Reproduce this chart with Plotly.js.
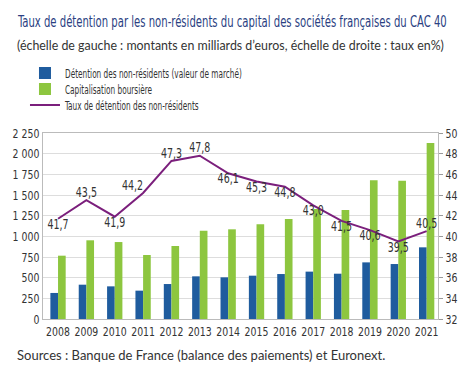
<!DOCTYPE html>
<html><head><meta charset="utf-8">
<script src="https://cdn.plot.ly/plotly-3.0.1.min.js"></script>
<style>html,body{margin:0;padding:0;background:#fff}#c{width:474px;height:382px}</style>
</head><body><div id="c"></div>
<script>
const years = [2008,2009,2010,2011,2012,2013,2014,2015,2016,2017,2018,2019,2020,2021];
const detention = [315,415,395,343,423,516,504,524,544,573,548,685,665,867];
const capitalisation = [766,952,931,774,883,1069,1085,1145,1210,1331,1319,1677,1673,2129];
const taux = [41.7,43.5,41.9,44.2,47.3,47.8,46.1,45.3,44.8,43.0,41.5,40.6,39.5,40.5];
const labelPos = ['bottom center','top center','bottom center','top left','top center','top center','bottom center','bottom center','bottom center','bottom center','bottom center','bottom center','bottom center','top center'];
const leftTicks = [0,250,500,750,1000,1250,1500,1750,2000,2250];
const rightTicks = [32,34,36,38,40,42,44,46,48,50];

const cond = '"Liberation Sans Narrow","DejaVu Sans Condensed","Liberation Sans",Arial,sans-serif';
const reg = 'Lato,"Open Sans",sans-serif';

const traces = [
  {type:'bar', x:years, y:detention, name:'Détention des non-résidents (valeur de marché)', marker:{color:'#1f5c9e'}},
  {type:'bar', x:years, y:capitalisation, name:'Capitalisation boursière', marker:{color:'#8dc63f'}},
  {type:'scatter', mode:'lines+text', x:years, y:taux, yaxis:'y2', name:'Taux de détention des non-résidents',
   line:{color:'#7b1f7c', width:2}, text:taux.map(v=>v.toFixed(1).replace('.',',')),
   textposition:labelPos, textfont:{family:cond, size:13.5, color:'#333'}, cliponaxis:false}
];

const layout = {
  width:474, height:382,
  margin:{l:43, r:36, t:133, b:63},
  paper_bgcolor:'#fff', plot_bgcolor:'#fff',
  separators:', ',
  barmode:'group', bargap:0.46, bargroupgap:0,
  showlegend:true,
  legend:{x:-0.0456, y:1.40, xanchor:'left', yanchor:'top', font:{family:cond, size:12, color:'#333'}, tracegroupgap:0, itemwidth:30, bgcolor:'rgba(0,0,0,0)'},
  xaxis:{range:[2007.47,2021.4], tickvals:years, ticktext:years.map(String), tickangle:0, showgrid:false, showline:true, mirror:true, linecolor:'#bbb', linewidth:1, ticks:'', tickfont:{family:cond, size:13, color:'#333'}, zeroline:false},
  yaxis:{range:[0,2250], tickvals:leftTicks, separatethousands:true, tickformat:',d', showgrid:true, gridcolor:'#ddd', showline:true, mirror:true, linecolor:'#bbb', ticks:'', tickfont:{family:cond, size:13, color:'#333'}, zeroline:false},
  yaxis2:{overlaying:'y', side:'right', range:[32,50], tickvals:rightTicks, showgrid:false, ticks:'outside', ticklen:4, tickcolor:'#999', showline:false, tickfont:{family:cond, size:13, color:'#333'}, zeroline:false},
  annotations:[
    {xref:'paper', yref:'paper', x:-0.071, y:1.597, xanchor:'left', yanchor:'middle', showarrow:false,
     text:'Taux de détention par les non-résidents du capital des sociétés françaises du CAC 40', font:{family:cond, size:16, color:'#2b3f82'}},
    {xref:'paper', yref:'paper', x:-0.071, y:1.473, xanchor:'left', yanchor:'middle', showarrow:false,
     text:'(échelle de gauche : montants en milliards d\u2019euros, échelle de droite : taux en%)', font:{family:reg, size:12.4, color:'#333'}},
    {xref:'paper', yref:'paper', x:-0.071, y:-0.194, xanchor:'left', yanchor:'middle', showarrow:false,
     text:'Sources : Banque de France (balance des paiements) et Euronext.', font:{family:reg, size:13, color:'#333'}}
  ]
};
function condense(nodes, f){
  nodes.forEach(t=>{
    const w = t.getComputedTextLength();
    if(!w) return;
    t.setAttribute('textLength', w*f);
    t.setAttribute('lengthAdjust','spacingAndGlyphs');
  });
}
function squeezeLeft(t, target){
  const b = t.getBBox();
  const f = target / b.width;
  t.setAttribute('transform', 'translate('+b.x+',0) scale('+f+',1) translate('+(-b.x)+',0)');
}
Plotly.newPlot('c', traces, layout, {displayModeBar:false, staticPlot:true}).then(()=>{
  const q = s=>Array.from(document.querySelectorAll(s));
  squeezeLeft(q('.annotation-text')[0], 430);
  condense(q('.legendtext'), 0.68);
  condense(q('.xtick text'), 0.8);
  condense(q('.ytick text'), 0.8);
  condense(q('.y2tick text'), 0.8);
  condense(q('.textpoint text'), 0.78);
  const items = q('.legend .traces');
  const y0 = parseFloat((items[0].getAttribute('transform')||'').match(/,\s*([^)]+)\)/)[1]);
  items.forEach((g,i)=>{
    const m = /translate\(([^,]+),\s*([^)]+)\)/.exec(g.getAttribute('transform')||'');
    if(m){ g.setAttribute('transform','translate('+m[1]+','+(y0+i*16)+')'); }
  });
});
</script></body></html>
